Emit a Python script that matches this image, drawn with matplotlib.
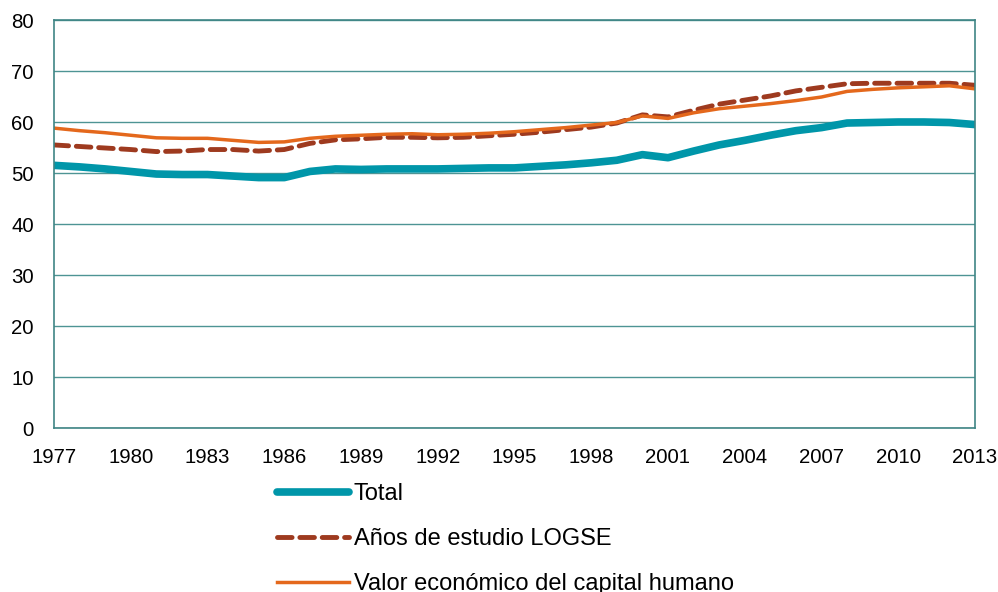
import numpy as np
import matplotlib
matplotlib.use("Agg")
import matplotlib.pyplot as plt

years = list(range(1977, 2014))

total = [51.5, 51.2, 50.8, 50.3, 49.8, 49.7, 49.7, 49.4, 49.1, 49.1,
         50.3, 50.8, 50.7, 50.8, 50.8, 50.8, 50.9, 51.0, 51.0, 51.3,
         51.6, 52.0, 52.5, 53.6, 53.0, 54.3, 55.5, 56.4, 57.4, 58.3,
         58.9, 59.8, 59.9, 60.0, 60.0, 59.9, 59.5]

logse = [55.5, 55.2, 54.9, 54.6, 54.2, 54.3, 54.6, 54.6, 54.3, 54.6,
         55.8, 56.5, 56.7, 57.0, 57.0, 56.9, 57.0, 57.3, 57.6, 58.0,
         58.5, 59.0, 59.8, 61.4, 61.0, 62.3, 63.5, 64.3, 65.1, 66.1,
         66.8, 67.5, 67.6, 67.6, 67.6, 67.6, 67.2]

valor = [58.8, 58.3, 57.9, 57.4, 56.9, 56.8, 56.8, 56.4, 56.0, 56.1,
         56.8, 57.2, 57.4, 57.6, 57.7, 57.5, 57.6, 57.8, 58.1, 58.5,
         58.9, 59.4, 59.9, 61.2, 60.7, 61.8, 62.6, 63.1, 63.6, 64.2,
         64.9, 66.0, 66.4, 66.7, 66.9, 67.1, 66.5]

labels = ["Total", "Años de estudio LOGSE", "Valor económico del capital humano"]
xticks = list(range(1977, 2014, 3))
yticks = list(range(0, 81, 10))

plt.rcParams['font.family'] = ['Liberation Sans', 'DejaVu Sans']

fig = plt.figure(figsize=(9.98, 5.92), dpi=100)
ax = fig.add_axes([54/998, 1-428/592, (975-54)/998, (428-20)/592])

ax.plot(years, total, color='#0096a9', lw=5.5, solid_capstyle='round', label=labels[0])
ax.plot(years, logse, color='#9e3a1f', lw=3.5, dashes=(3, 1.6), dash_capstyle='round', label=labels[1])
ax.plot(years, valor, color='#e4681c', lw=2.5, label=labels[2])

ax.set_xlim(1977, 2013)
ax.set_ylim(0, 80)
ax.set_xticks(xticks)
ax.set_yticks(yticks)
ax.tick_params(length=0, labelsize=14.7)
ax.tick_params(axis='x', pad=14.5)
ax.tick_params(axis='y', pad=14.5)
ax.yaxis.grid(True, color='#4e9494', lw=1)
ax.set_axisbelow(True)
for s in ax.spines.values():
    s.set_color('#3f8585')
    s.set_linewidth(1.2)

fig.legend(loc='upper left', bbox_to_anchor=(277/998, 1-483/592), frameon=False,
           fontsize=17, handlelength=3.05, handletextpad=0.2, labelspacing=0.98,
           borderpad=0, borderaxespad=0)

fig.savefig("out.png", dpi=100)
